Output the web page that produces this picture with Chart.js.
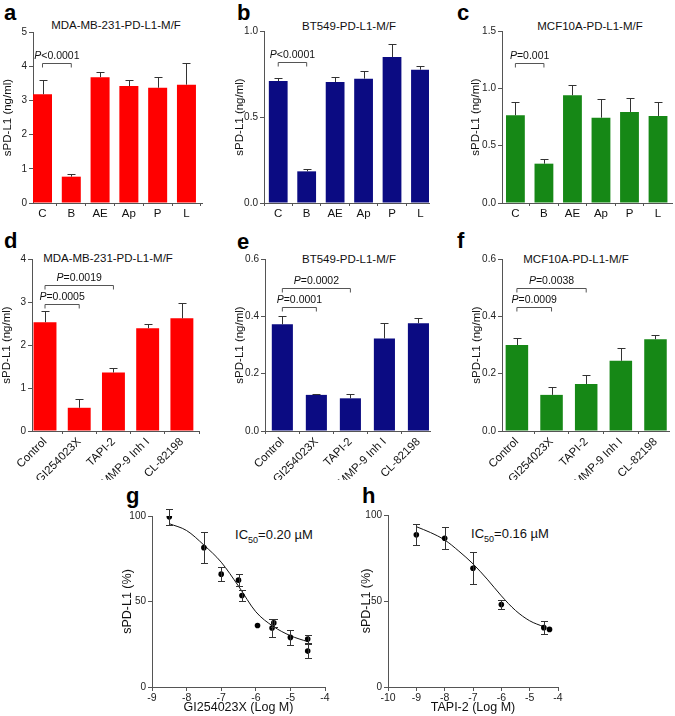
<!DOCTYPE html>
<html>
<head>
<meta charset="utf-8">
<script src="https://cdn.jsdelivr.net/npm/chart.js@4.4.0/dist/chart.umd.min.js"></script>
<style>
  body { margin: 0; background: #fff; width: 675px; height: 716px; position: relative; overflow: hidden;
         font-family: "Liberation Sans", Arial, sans-serif; }
  canvas { position: absolute; }
  .lt { position: absolute; font-weight: bold; font-size: 22px; line-height: 1; color: #000; }
  .tt { position: absolute; font-size: 11.5px; color: #111; transform: translate(-50%, -50%); white-space: nowrap; }
  .ic { position: absolute; font-size: 13px; color: #111; white-space: nowrap; transform: translate(-50%, -50%); }
  .ic sub { font-size: 9px; }
</style>
</head>
<body>
<div class="lt" style="left:4px;top:2px">a</div>
<div class="lt" style="left:237px;top:2px">b</div>
<div class="lt" style="left:457px;top:2px">c</div>
<div class="lt" style="left:4px;top:230px">d</div>
<div class="lt" style="left:237px;top:231px">e</div>
<div class="lt" style="left:457px;top:230px">f</div>
<div class="lt" style="left:126px;top:485px">g</div>
<div class="lt" style="left:362px;top:485px">h</div>

<div class="tt" style="left:116px;top:25px">MDA-MB-231-PD-L1-M/F</div>
<div class="tt" style="left:349px;top:26px">BT549-PD-L1-M/F</div>
<div class="tt" style="left:590px;top:26px">MCF10A-PD-L1-M/F</div>
<div class="tt" style="left:108px;top:258px">MDA-MB-231-PD-L1-M/F</div>
<div class="tt" style="left:349px;top:259px">BT549-PD-L1-M/F</div>
<div class="tt" style="left:576px;top:259px">MCF10A-PD-L1-M/F</div>

<div class="ic" style="left:274px;top:536px">IC<sub>50</sub>=0.20 &micro;M</div>
<div class="ic" style="left:510px;top:535px">IC<sub>50</sub>=0.16 &micro;M</div>

<script>
// ---- data ----
const catsTop = ['C', 'B', 'AE', 'Ap', 'P', 'L'];
const catsBot = ['Control', 'GI254023X', 'TAPI-2', 'MMP-9 Inh I', 'CL-82198'];

const aVals = [3.18, 0.77, 3.68, 3.42, 3.37, 3.46];
const aErr  = [0.42, 0.08, 0.15, 0.17, 0.30, 0.63];
const bVals = [0.709, 0.184, 0.703, 0.723, 0.849, 0.775];
const bErr  = [0.018, 0.014, 0.030, 0.044, 0.073, 0.020];
const cVals = [0.765, 0.343, 0.939, 0.744, 0.794, 0.759];
const cErr  = [0.115, 0.044, 0.091, 0.160, 0.125, 0.122];

const dVals = [2.53, 0.54, 1.36, 2.39, 2.62];
const dErr  = [0.26, 0.20, 0.10, 0.11, 0.35];
const eVals = [0.372, 0.126, 0.114, 0.323, 0.376];
const eErr  = [0.030, 0.004, 0.015, 0.053, 0.018];
const fVals = [0.300, 0.126, 0.164, 0.245, 0.320];
const fErr  = [0.026, 0.027, 0.033, 0.046, 0.015];

// dose response (log M)
const gX   = [-8.5, -7.5, -7.0, -6.5, -6.4, -5.95, -5.53, -5.48, -5.0, -4.5, -4.5];
const gY   = [99.5, 81.5, 66, 62.5, 53.5, 36, 34.5, 37.5, 29, 28, 21];
const gErr = [4.5, 9, 4, 3.5, 3, 0, 5, 2.5, 4.3, 2.5, 4.3];
const gCurveX = [-8.5, -8, -7.5, -7, -6.5, -6, -5.5, -5, -4.5];
const gCurveY = [95.5, 91.5, 83, 73, 59, 44, 35.5, 30, 26.5];

const hX   = [-9, -8, -7, -6, -4.5, -4.3];
const hY   = [88.5, 86.5, 69, 48, 34.5, 33.5];
const hErr = [6, 6.5, 9.3, 2.4, 3.7, 0];
const hCurveX = [-9, -8.5, -8, -7.5, -7, -6.5, -6, -5.5, -5, -4.5];
const hCurveY = [93.2, 89.8, 85.5, 79, 71.6, 62.7, 53, 44.5, 38.5, 35];

const RED = '#ff0000', NAVY = '#0b0b82', GREEN = '#168816';
const AXIS = '#555';

// error bars: up-only for bars, both ways for points
const errorBars = {
  id: 'errorBars',
  afterDatasetsDraw(chart, args, opts) {
    if (!opts.errs) return;
    const ctx = chart.ctx, ys = chart.scales.y;
    ctx.save();
    ctx.strokeStyle = opts.color || '#333';
    ctx.lineWidth = 1;
    opts.errs.forEach((errs, di) => {
      if (!errs) return;
      const ds = chart.data.datasets[di];
      chart.getDatasetMeta(di).data.forEach((el, i) => {
        const e = errs[i];
        if (!e) return;
        const v = ds.data[i].y;
        const px = Math.round(el.x) + 0.5;
        const top = Math.round(ys.getPixelForValue(v + e)) + 0.5;
        const bot = opts.both ? Math.round(ys.getPixelForValue(v - e)) + 0.5 : ys.getPixelForValue(v);
        const cw = opts.cap || 4;
        ctx.beginPath();
        ctx.moveTo(px, bot); ctx.lineTo(px, top);
        ctx.moveTo(px - cw, top); ctx.lineTo(px + cw, top);
        if (opts.both) { ctx.moveTo(px - cw, bot); ctx.lineTo(px + cw, bot); }
        ctx.stroke();
      });
    });
    ctx.restore();
  }
};

// significance brackets with italic P
const brackets = {
  id: 'brackets',
  afterDraw(chart, args, opts) {
    if (!opts.items) return;
    const ctx = chart.ctx, xs = chart.scales.x, ys = chart.scales.y;
    ctx.save();
    opts.items.forEach(b => {
      const x1 = xs.getPixelForValue(b.from), x2 = xs.getPixelForValue(b.to);
      const py = Math.round(ys.getPixelForValue(b.y)) + 0.5;
      ctx.strokeStyle = AXIS;
      ctx.lineWidth = 1;
      ctx.beginPath();
      ctx.moveTo(x1, py + 4); ctx.lineTo(x1, py); ctx.lineTo(x2, py); ctx.lineTo(x2, py + 4);
      ctx.stroke();
      const fi = 'italic 10.5px "Liberation Sans", Arial, sans-serif';
      const fr = '10.5px "Liberation Sans", Arial, sans-serif';
      const rest = b.label.slice(1);
      ctx.font = fi; const w1 = ctx.measureText('P').width;
      ctx.font = fr; const w2 = ctx.measureText(rest).width;
      let sx = (x1 + x2) / 2 - (w1 + w2) / 2;
      ctx.fillStyle = '#111';
      ctx.textBaseline = 'alphabetic';
      ctx.textAlign = 'left';
      ctx.font = fi; ctx.fillText('P', sx, py - 5);
      ctx.font = fr; ctx.fillText(rest, sx + w1, py - 5);
    });
    ctx.restore();
  }
};

Chart.register(errorBars, brackets);
Chart.defaults.font.family = '"Liberation Sans", Arial, sans-serif';
Chart.defaults.color = '#111';
Chart.defaults.animation = false;

function place(id, cv) {
  const c = document.createElement('canvas');
  c.id = id;
  c.width = cv.w; c.height = cv.h;
  c.style.left = cv.x + 'px'; c.style.top = cv.y + 'px';
  c.style.width = cv.w + 'px'; c.style.height = cv.h + 'px';
  document.body.appendChild(c);
  return c.getContext('2d');
}

function layoutFor(cv, area, xH) {
  return {
    yW: area.l - cv.x,
    padding: { left: 0, top: area.t - cv.y, right: cv.x + cv.w - area.r, bottom: cv.y + cv.h - area.b - xH }
  };
}

function barPanel(p) {
  const lay = layoutFor(p.cv, p.area, p.xH);
  const ctx = place(p.id, p.cv);
  new Chart(ctx, {
    type: 'bar',
    data: {
      datasets: [{
        data: p.cats.map((c, i) => ({ x: i, y: p.vals[i] })),
        backgroundColor: p.color,
        borderWidth: 0,
        barPercentage: p.barPct,
        categoryPercentage: 1
      }]
    },
    options: {
      responsive: false,
      layout: { padding: lay.padding, autoPadding: false },
      plugins: {
        legend: { display: false }, tooltip: { enabled: false },
        errorBars: { errs: [p.errs], cap: 4, color: '#333' },
        brackets: { items: p.brackets }
      },
      scales: {
        x: {
          type: 'linear', min: p.xmin, max: p.xmax, offset: false,
          afterBuildTicks: s => { s.ticks = p.cats.map((c, i) => ({ value: i })); },
          afterFit: s => { s.height = p.xH; s.paddingLeft = 0; s.paddingRight = 0; },
          ticks: { callback: v => p.cats[v], autoSkip: false, font: { size: p.xFont },
                   maxRotation: p.rot, minRotation: p.rot, padding: 1, color: '#111' },
          grid: { drawOnChartArea: false, tickLength: 3, color: AXIS },
          border: { color: AXIS }
        },
        y: {
          min: 0, max: p.ymax,
          afterBuildTicks: s => { s.ticks = p.yticks.map(v => ({ value: v })); },
          afterFit: s => { s.width = lay.yW; s.paddingTop = 0; s.paddingBottom = 0; },
          ticks: { callback: v => v.toFixed(p.dec), font: { size: 10 }, padding: 2, color: '#222' },
          grid: { drawOnChartArea: false, tickLength: 4, color: AXIS },
          border: { color: AXIS },
          title: { display: true, text: 'sPD-L1 (ng/ml)', font: { size: 11.5 },
                   padding: { top: p.ytx - p.cv.x - 6.9, bottom: 0 } }
        }
      }
    }
  });
}

barPanel({ id: 'pa', cv: { x: 0, y: 0, w: 215, h: 235 }, area: { l: 33, t: 32, r: 202, b: 203 }, xH: 22,
  cats: catsTop, vals: aVals, errs: aErr, color: RED, xmin: -0.33, xmax: 5.54, barPct: 0.66,
  ymax: 5, yticks: [0, 1, 2, 3, 4, 5], dec: 0, ytx: 8, xFont: 11.5, rot: 0,
  brackets: [{ from: 0, to: 1, y: 4.1, label: 'P<0.0001' }] });

barPanel({ id: 'pb', cv: { x: 225, y: 0, w: 215, h: 235 }, area: { l: 264, t: 31, r: 429, b: 203 }, xH: 22,
  cats: catsTop, vals: bVals, errs: bErr, color: NAVY, xmin: -0.5, xmax: 5.3, barPct: 0.66,
  ymax: 1, yticks: [0, 0.5, 1], dec: 1, ytx: 240, xFont: 11.5, rot: 0,
  brackets: [{ from: 0, to: 1, y: 0.82, label: 'P<0.0001' }] });

barPanel({ id: 'pc', cv: { x: 452, y: 0, w: 223, h: 235 }, area: { l: 502, t: 31, r: 672, b: 203 }, xH: 22,
  cats: catsTop, vals: cVals, errs: cErr, color: GREEN, xmin: -0.47, xmax: 5.49, barPct: 0.66,
  ymax: 1.5, yticks: [0, 0.5, 1, 1.5], dec: 1, ytx: 476, xFont: 11.5, rot: 0,
  brackets: [{ from: 0, to: 1, y: 1.22, label: 'P=0.001' }] });

barPanel({ id: 'pd', cv: { x: 0, y: 235, w: 215, h: 245 }, area: { l: 32, t: 259, r: 199, b: 431 }, xH: 49,
  cats: catsBot, vals: dVals, errs: dErr, color: RED, xmin: -0.38, xmax: 4.5, barPct: 0.67,
  ymax: 4, yticks: [0, 1, 2, 3, 4], dec: 0, ytx: 7, xFont: 11.5, rot: 45,
  brackets: [{ from: 0, to: 1, y: 2.95, label: 'P=0.0005' }, { from: 0, to: 2, y: 3.4, label: 'P=0.0019' }] });

barPanel({ id: 'pe', cv: { x: 225, y: 235, w: 215, h: 245 }, area: { l: 265, t: 259, r: 430, b: 431 }, xH: 49,
  cats: catsBot, vals: eVals, errs: eErr, color: NAVY, xmin: -0.51, xmax: 4.34, barPct: 0.62,
  ymax: 0.6, yticks: [0, 0.2, 0.4, 0.6], dec: 1, ytx: 240, xFont: 11.5, rot: 45,
  brackets: [{ from: 0, to: 1, y: 0.433, label: 'P=0.0001' }, { from: 0, to: 2, y: 0.5, label: 'P=0.0002' }] });

barPanel({ id: 'pf', cv: { x: 452, y: 235, w: 223, h: 245 }, area: { l: 502, t: 259, r: 669, b: 431 }, xH: 49,
  cats: catsBot, vals: fVals, errs: fErr, color: GREEN, xmin: -0.43, xmax: 4.39, barPct: 0.65,
  ymax: 0.6, yticks: [0, 0.2, 0.4, 0.6], dec: 1, ytx: 477, xFont: 11.5, rot: 45,
  brackets: [{ from: 0, to: 1, y: 0.433, label: 'P=0.0009' }, { from: 0, to: 2, y: 0.5, label: 'P=0.0038' }] });

function dosePanel(p) {
  const lay = layoutFor(p.cv, p.area, p.xH);
  const ctx = place(p.id, p.cv);
  new Chart(ctx, {
    type: 'scatter',
    data: {
      datasets: [
        { data: p.px.map((x, i) => ({ x: x, y: p.py[i] })), pointRadius: 2.8,
          pointBackgroundColor: '#000', pointBorderWidth: 0, showLine: false },
        { data: p.cx.map((x, i) => ({ x: x, y: p.cy[i] })), pointRadius: 0, showLine: true,
          borderColor: '#111', borderWidth: 1, cubicInterpolationMode: 'monotone' }
      ]
    },
    options: {
      responsive: false,
      layout: { padding: lay.padding, autoPadding: false },
      plugins: {
        legend: { display: false }, tooltip: { enabled: false },
        errorBars: { errs: [p.errs], both: true, cap: 3.5, color: '#333' }
      },
      scales: {
        x: {
          min: p.xmin, max: -4,
          ticks: { stepSize: 1, font: { size: 10.5 }, padding: 1, color: '#222' },
          afterFit: s => { s.height = p.xH; s.paddingLeft = 0; s.paddingRight = 0; },
          grid: { drawOnChartArea: false, tickLength: 4, color: AXIS },
          border: { color: AXIS },
          title: { display: true, text: p.xTitle, font: { size: 12.5 }, padding: { top: 0, bottom: 1 } }
        },
        y: {
          min: 0, max: 100,
          ticks: { stepSize: 50, font: { size: 10 }, padding: 2, color: '#222' },
          afterFit: s => { s.width = lay.yW; s.paddingTop = 0; s.paddingBottom = 0; },
          grid: { drawOnChartArea: false, tickLength: 4, color: AXIS },
          border: { color: AXIS },
          title: { display: true, text: 'sPD-L1 (%)', font: { size: 12.5 },
                   padding: { top: p.ytx - p.cv.x - 7.5, bottom: 0 } }
        }
      }
    }
  });
}

dosePanel({ id: 'pg', cv: { x: 95, y: 480, w: 245, h: 236 }, area: { l: 152, t: 516, r: 325, b: 687 }, xH: 29,
  px: gX, py: gY, errs: gErr, cx: gCurveX, cy: gCurveY, xmin: -9, ytx: 128, xTitle: 'GI254023X (Log M)' });

dosePanel({ id: 'ph', cv: { x: 335, y: 480, w: 240, h: 236 }, area: { l: 388, t: 515, r: 558, b: 687 }, xH: 29,
  px: hX, py: hY, errs: hErr, cx: hCurveX, cy: hCurveY, xmin: -10, ytx: 367, xTitle: 'TAPI-2 (Log M)' });
</script>
</body>
</html>
